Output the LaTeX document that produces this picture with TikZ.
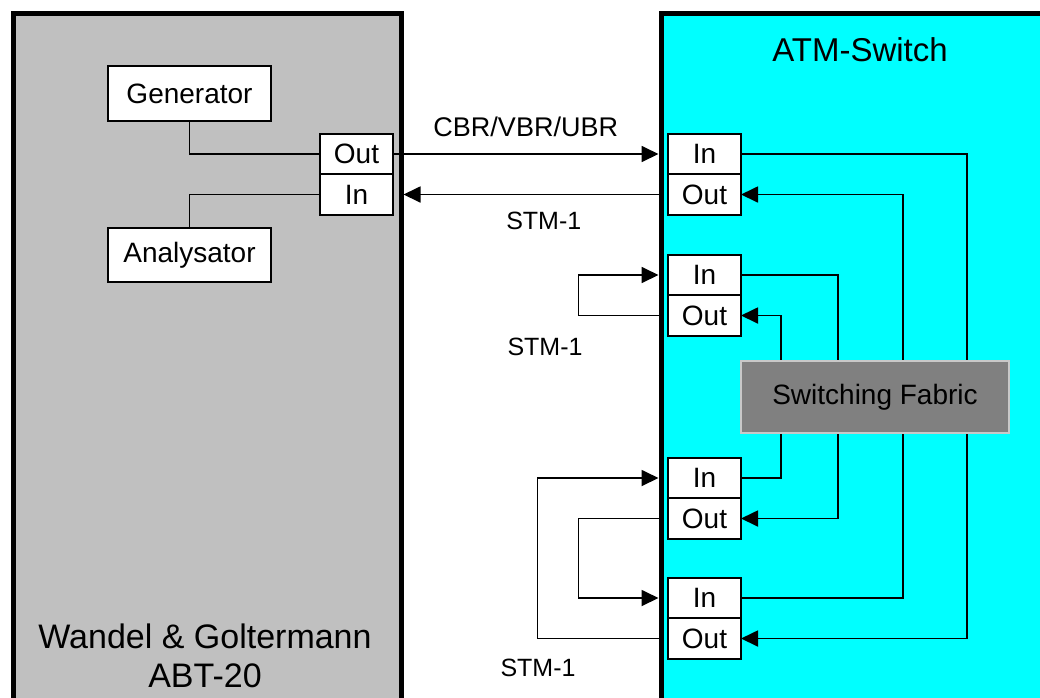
\documentclass[tikz,border=0pt]{standalone}
\usepackage{fontspec}
\setmainfont{Liberation Sans}
\usepackage{xcolor}
\usepackage{tikz}
\usetikzlibrary{positioning,arrows.meta,calc}
\definecolor{abtgray}{RGB}{192,192,192}
\definecolor{atmcyan}{RGB}{0,255,255}
\definecolor{fabricgray}{RGB}{128,128,128}
\definecolor{fabricedge}{RGB}{200,200,200}

\begin{document}
\begin{tikzpicture}[x=1pt, y=-1pt]
\tikzset{
  devbox/.style={rectangle, draw=black, line width=5pt, anchor=north west,
    minimum width=388, minimum height=760},
  unitbox/.style={rectangle, draw=black, line width=1.8pt, fill=white, outer sep=0pt,
    minimum width=163, minimum height=55, inner sep=0pt, font=\fontsize{28}{32}\selectfont},
  port/.style={rectangle, draw=black, line width=1.8pt, fill=white, outer sep=0pt,
    minimum width=73, minimum height=40.5, inner sep=0pt, font=\fontsize{28}{32}\selectfont},
  fabric/.style={rectangle, draw=fabricedge, line width=2pt, fill=fabricgray,
    minimum width=268, minimum height=72, font=\fontsize{28}{32}\selectfont},
  title/.style={align=center, font=\fontsize{34}{39}\selectfont},
  wire/.style={line width=1.8pt, black},
  flow/.style={wire, -{Triangle[length=17pt,width=16pt]}},
  lbl/.style={font=\fontsize{25}{28}\selectfont, inner sep=0pt}
}
\clip (0,0) rectangle (1040,697);
% devices
\node[devbox, fill=abtgray] (abt) at (10.5,10.5) {};
\node[devbox, fill=atmcyan, minimum width=450] (atm) at (658.5,10.5) {};
\node[title] (abtname) at (205,656) {Wandel \& Goltermann\\ABT-20};
\node[title, font=\fontsize{33}{39}\selectfont] (atmname) at (860,50) {ATM-Switch};
% tester
\node[unitbox] (gen) at (189.5,93.5) {Generator};
\node[unitbox, minimum height=54] (ana) at (189.5,255) {Analysator};
\node[port] (wgout) at (356.5,154) {Out};
\node[port, below=0pt of wgout] (wgin) {In};
% switch ports
\node[port] (p1in) at (704.5,154) {In};
\node[port, below=0pt of p1in] (p1out) {Out};
\node[port] (p2in) at (704.5,275) {In};
\node[port, below=0pt of p2in] (p2out) {Out};
\node[port] (p3in) at (704.5,478) {In};
\node[port, below=0pt of p3in] (p3out) {Out};
\node[port] (p4in) at (704.5,598) {In};
\node[port, below=0pt of p4in] (p4out) {Out};
\draw[wire] (gen.south) |- (wgout.west);
\draw[wire] (ana.north) |- (wgin.west);
% links between devices
\draw[flow] (wgout.east) -- node[lbl, above=16pt, font=\fontsize{27}{32}\selectfont] {CBR/VBR/UBR} (wgout -| atm.west);
\draw[flow] (p1out -| atm.west) -- node[lbl, below=17pt, pos=0.45] {STM-1} (wgin -| abt.east);
\draw[flow] (p2out -| atm.west) -- ++(-80,0) |- (p2in -| atm.west);
\node[lbl] (stm2) at (545,347) {STM-1};
\draw[flow] (p4out -| atm.west) -- ++(-121,0) |- (p3in -| atm.west);
\draw[flow] (p3out -| atm.west) -- ++(-80,0) |- (p4in -| atm.west);
\node[lbl] (stm3) at (538,668) {STM-1};
% through the fabric
\draw[flow] (p1in.east) -- ++(226,0) |- (p4out.east);
\draw[flow] (p4in.east) -- ++(162,0) |- (p1out.east);
\draw[flow] (p2in.east) -- ++(97,0) |- (p3out.east);
\draw[flow] (p3in.east) -- ++(40,0) |- (p2out.east);
\node[fabric] (sf) at (875,397) {Switching Fabric};
\end{tikzpicture}
\end{document}
